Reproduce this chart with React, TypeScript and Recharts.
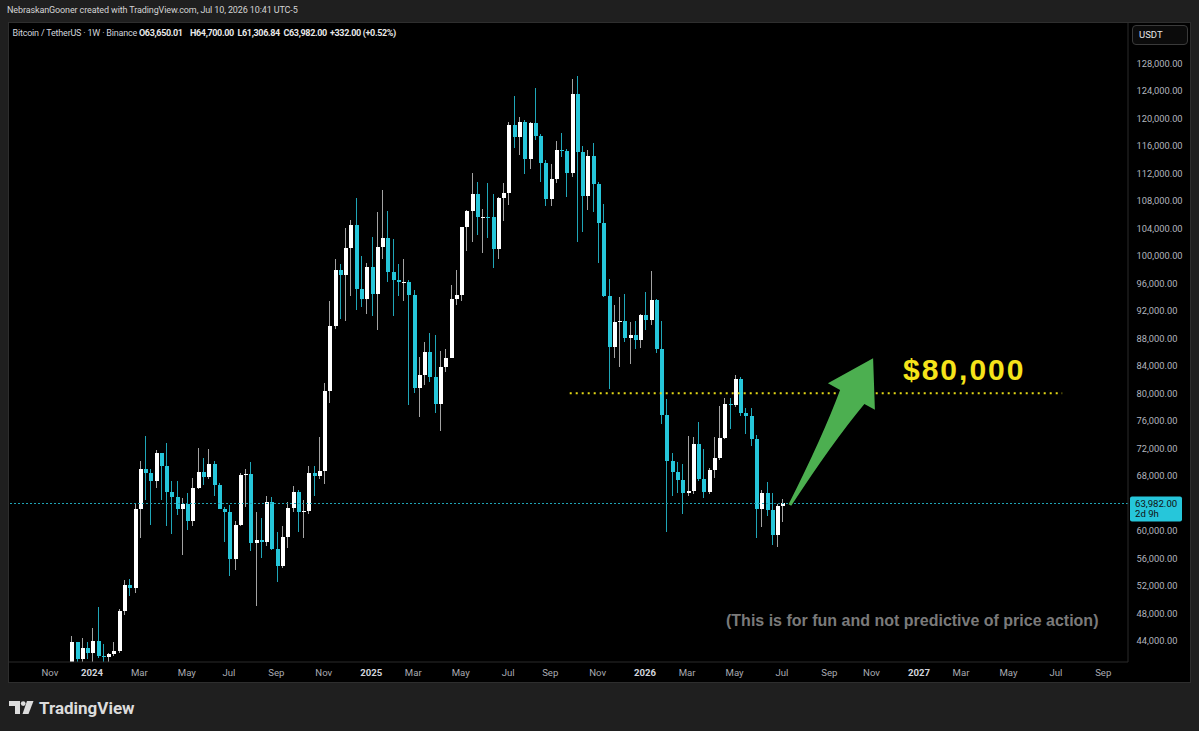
import React from 'react';
import { ComposedChart, Bar, XAxis, YAxis, ReferenceLine } from 'recharts';

// weekly candles, week index counted from Mon 1 Jan 2024 (first visible bar = 4 Dec 2023)
const firstWeek = -4;

const opens = [
  39970, 43780, 41360, 42990, 42280, 43930, 41730, 41580, 42030, 42580, 48300, 52140,
  51730, 63110, 68960, 68390, 67210, 71280, 69360, 65660, 64940, 63120, 63900, 61480,
  66270, 68520, 67760, 69650, 66670, 63200, 62680, 55860, 60800, 68160, 68250, 58160,
  58710, 58430, 64220, 57300, 54870, 59130, 63340, 65610, 62800, 62850, 68360, 67960,
  68760, 80370, 89850, 97900, 97190, 101110, 104460, 95190, 93720, 98360, 94510, 101330,
  102620, 97700, 96460, 96120, 96260, 94270, 80730, 82600, 86080, 82390, 78430, 83760,
  85170, 93750, 94280, 104120, 106450, 109000, 105600, 105700, 105600, 100960, 108380, 109200,
  119080, 117300, 119450, 114100, 119300, 117400, 113500, 108250, 111150, 115350, 115250, 112100,
  123500, 115100, 108650, 114500, 110500, 104700, 94200, 86800, 90300, 90450, 88000, 88550,
  87820, 91460, 90730, 93500, 86400, 76800, 70100, 68500, 67440, 65550, 65840, 72690,
  67580, 65700, 68900, 70650, 73560, 78500, 78300, 82150, 77200, 76760, 73410, 63220,
  65550, 63080, 59440, 63650,
];
const highs = [
  44700, 43800, 44400, 43800, 45880, 48970, 43580, 42200, 43880, 48590, 52820, 52990,
  64000, 70170, 73780, 68920, 71770, 71340, 72800, 67200, 67230, 64730, 65500, 67700,
  71980, 70600, 71950, 70200, 66960, 63400, 63800, 61400, 68370, 68950, 70080, 62750,
  61800, 65000, 64980, 59800, 60670, 64130, 66500, 66000, 64480, 69400, 69500, 73620,
  81500, 93480, 99590, 98870, 104090, 105250, 108350, 99960, 98980, 102720, 106420, 109590,
  106460, 102500, 98830, 99480, 96500, 95000, 85310, 87450, 88770, 88500, 86100, 86430,
  95760, 97900, 104150, 106650, 111980, 110720, 106800, 110530, 108950, 108530, 110530, 119500,
  123220, 120250, 119800, 119400, 124470, 117650, 113880, 113380, 116660, 117900, 115500, 125710,
  126200, 115970, 115340, 116400, 110800, 107500, 96600, 92900, 94000, 94500, 90300, 90450,
  91600, 94670, 97720, 93700, 90450, 79230, 71370, 70060, 69770, 73850, 73700, 75890,
  71960, 69200, 73700, 78200, 79380, 79380, 82730, 82300, 77920, 77920, 74000, 65900,
  67150, 65550, 63950, 64700,
];
const lows = [
  39300, 40200, 40500, 41300, 40750, 41500, 40280, 38550, 41800, 42260, 47700, 50520,
  50900, 59000, 64530, 60780, 66300, 64490, 60660, 59600, 62350, 56550, 60190, 60750,
  66080, 66600, 67600, 65080, 63380, 58400, 53490, 54260, 60630, 63460, 57120, 49000,
  56080, 57800, 57200, 52550, 54560, 57490, 62700, 59830, 58900, 62450, 65070, 67480,
  66800, 78580, 89380, 90790, 90500, 94150, 92180, 92500, 91530, 91200, 89260, 99500,
  96150, 91230, 94090, 93390, 78260, 80000, 76600, 81200, 81640, 77150, 74510, 83100,
  85140, 92800, 93380, 100720, 102000, 103070, 100370, 102660, 98200, 99600, 105100, 107450,
  115700, 114700, 111920, 112650, 116800, 110680, 107270, 107270, 110600, 114400, 108620, 111400,
  102000, 103530, 106600, 106300, 98900, 94000, 80600, 85200, 83800, 87400, 84300, 86400,
  86660, 89280, 90000, 85930, 75600, 59800, 65100, 65550, 62500, 65100, 65300, 67300,
  64820, 65400, 67730, 70300, 73400, 74870, 78000, 76760, 74140, 72400, 59000, 60600,
  62200, 57980, 57690, 61306.84,
];
const closes = [
  43780, 41360, 42990, 42280, 43930, 41730, 41580, 42030, 42580, 48300, 52140, 51730,
  63110, 68960, 68390, 67210, 71280, 69360, 65660, 64940, 63120, 63900, 61480, 66270,
  68520, 67760, 69650, 66670, 63200, 62680, 55860, 60800, 68160, 68250, 58160, 58710,
  58430, 64220, 57300, 54870, 59130, 63340, 65610, 62800, 62850, 68360, 67960, 68760,
  80370, 89850, 97900, 97190, 101110, 104460, 95190, 93720, 98360, 94510, 101330, 102620,
  97700, 96460, 96120, 96260, 94270, 80730, 82600, 86080, 82390, 78430, 83760, 85170,
  93750, 94280, 104120, 106450, 109000, 105600, 105700, 105600, 100960, 108380, 109200, 119080,
  117300, 119450, 114100, 119300, 117400, 113500, 108250, 111150, 115350, 115250, 112100, 123500,
  115100, 108650, 114500, 110500, 104700, 94200, 86800, 90300, 90450, 88000, 88550, 87820,
  91460, 90730, 93500, 86400, 76800, 70100, 68500, 67440, 65550, 65840, 72690, 67580,
  65700, 68900, 70650, 73560, 78500, 78300, 82150, 77200, 76760, 73410, 63220, 65550,
  63080, 59440, 63650, 63982,
];

const timeTicks = [-8, 0, 9, 18, 26, 35, 44, 53, 61, 70, 79, 87, 96, 105, 113, 122, 131, 140, 148, 157, 165, 174, 183, 192];
const timeLabels = ['Nov', '2024', 'Mar', 'May', 'Jul', 'Sep', 'Nov', '2025', 'Mar', 'May', 'Jul', 'Sep', 'Nov', '2026', 'Mar', 'May', 'Jul', 'Sep', 'Nov', '2027', 'Mar', 'May', 'Jul', 'Sep'];
// 64,000 sits under the last-price tag
const priceTicks = [44000, 48000, 52000, 56000, 60000, 68000, 72000, 76000, 80000, 84000, 88000, 92000, 96000, 100000, 104000, 108000, 112000, 116000, 120000, 124000, 128000];

const legendItems = ['O63,650.01', 'H64,700.00', 'L61,306.84', 'C63,982.00', '+332.00 (+0.52%)'];
const legendLeft = [139, 190, 237.5, 283.5, 330];

const lastPrice = 63982;
const targetPrice = 80000;
const targetFrom = 90.7;
const targetTo = 184.2;
const arrowFrom = { x: 132.5, y: 63750 };
const arrowTo = { x: 148.3, y: 85100 };

const UP = '#ffffff';
const DOWN = '#26c6da';
const UP_WICK = '#a3a3a3';
const DOWN_WICK = '#1fa6b8';
const UI_FONT = 'Roboto, "Liberation Sans", sans-serif';

const candles = opens.map((o, i) => ({
  w: firstWeek + i,
  open: o,
  high: highs[i],
  low: lows[i],
  close: closes[i],
}));

const Candle = (props: any) => {
  const { x, y, width, height, payload } = props;
  if (!payload || height == null) return null;
  const { open, close, high, low } = payload;
  const top = Math.min(y, y + height);
  const span = Math.abs(height);
  const toY = (v: number) => top + ((high - v) / (high - low)) * span;
  const up = close >= open;
  const cx = Math.round(x + width / 2);
  const bTop = toY(Math.max(open, close));
  const bBot = toY(Math.min(open, close));
  return (
    <g shapeRendering="crispEdges">
      <rect x={cx} y={top} width={1} height={span} fill={up ? UP_WICK : DOWN_WICK} />
      <rect x={cx - 1.5} y={bTop} width={4} height={Math.max(1, bBot - bTop)} fill={up ? UP : DOWN} />
    </g>
  );
};

const TimeTick = (props: any) => {
  const { x, y, payload } = props;
  const label = timeLabels[timeTicks.indexOf(payload.value)];
  const isYear = /^\d{4}$/.test(label || '');
  return (
    <text x={x} y={y + 13.5} textAnchor="middle" fontFamily={UI_FONT} fontSize={9.6}
      fontWeight={isYear ? 700 : 400} fill={isYear ? '#d1d4dc' : '#a9abb2'}>
      {label}
    </text>
  );
};

const PriceTick = (props: any) => {
  const { x, y, payload } = props;
  return (
    <text x={x + 8.5} y={y + 3.3} textAnchor="start" fontFamily={UI_FONT} fontSize={9.3} fill="#b2b5be">
      {payload.value.toLocaleString('en-US', { minimumFractionDigits: 2 })}
    </text>
  );
};

const PriceTag = (props: any) => {
  const vb = props.viewBox;
  if (!vb) return null;
  const x = vb.x + vb.width + 2;
  const y = vb.y;
  return (
    <g>
      <rect x={x} y={y - 7} width={52} height={25} rx={2} fill={DOWN} />
      <text x={x + 5} y={y + 3.3} fontFamily={UI_FONT} fontSize={9.6} fill="#111">
        {lastPrice.toLocaleString('en-US', { minimumFractionDigits: 2 })}
      </text>
      <text x={x + 5} y={y + 14} fontFamily={UI_FONT} fontSize={9.6} fill="#111">2d 9h</text>
    </g>
  );
};

const Arrow = (props: any) => {
  const { x1, y1, x2, y2 } = props;
  if ([x1, y1, x2, y2].some((v) => v == null || isNaN(v))) return null;
  const dx = x2 - x1;
  const dy = y2 - y1;
  const len = Math.hypot(dx, dy);
  const ux = dx / len;
  const uy = dy / len;
  const nx = -uy;
  const ny = ux;
  const p = (a: number, b: number) => `${(x1 + ux * a + nx * b).toFixed(1)},${(y1 + uy * a + ny * b).toFixed(1)}`;
  const base = len - 44;
  const d = `M${p(0, -1.5)} Q${p(base * 0.6, -5)} ${p(base, -13)} L${p(base, -27)} L${p(len, 0)} L${p(base, 27)} L${p(base, 15)} Q${p(base * 0.6, 6)} ${p(0, 1.5)} Z`;
  return <path d={d} fill="#4caf50" />;
};

const App: React.FC = () => {
  return (
    <div style={{ position: 'absolute', left: 0, top: 0, width: 1199, height: 731, background: '#1f1f1f', overflow: 'hidden', fontFamily: UI_FONT }}>
      <div style={{ position: 'absolute', left: 7, top: 5, fontSize: 9, letterSpacing: -0.12, color: '#d4d4d4', whiteSpace: 'nowrap' }}>
        NebraskanGooner created with TradingView.com, Jul 10, 2026 10:41 UTC-5
      </div>
      <div style={{ position: 'absolute', left: 8, top: 22, width: 1181, height: 659, background: '#000', border: '1px solid #2e2e2e' }} />
      <ComposedChart
        width={1181}
        height={660}
        data={candles}
        margin={{ top: 0, right: 0, bottom: 0, left: 0 }}
        style={{ position: 'absolute', left: 9, top: 23 }}
      >
        <XAxis
          dataKey="w"
          type="number"
          domain={[-15.76, 196.7]}
          allowDataOverflow
          ticks={timeTicks}
          interval={0}
          height={21}
          tickSize={0}
          tickMargin={0}
          tickLine={false}
          axisLine={{ stroke: '#2b2b2b' }}
          tick={<TimeTick />}
        />
        <YAxis
          orientation="right"
          type="number"
          domain={[40920, 133860]}
          allowDataOverflow
          ticks={priceTicks}
          interval={0}
          width={62}
          tickSize={0}
          tickMargin={0}
          tickLine={false}
          axisLine={{ stroke: '#2b2b2b' }}
          tick={<PriceTick />}
        />
        <ReferenceLine y={lastPrice} stroke="#1fa3b5" strokeDasharray="2 2" shapeRendering="crispEdges" label={<PriceTag />} />
        <Bar
          dataKey={(d: any) => [d.low, d.high]}
          barSize={4}
          shape={<Candle />}
          isAnimationActive={false}
        />
        <ReferenceLine
          segment={[{ x: targetFrom, y: targetPrice }, { x: targetTo, y: targetPrice }]}
          stroke="#e3d816"
          strokeWidth={2}
          strokeDasharray="2 4"
        />
        <ReferenceLine segment={[arrowFrom, arrowTo]} shape={(p: any) => <Arrow {...p} />} />
      </ComposedChart>

      <div style={{ position: 'absolute', left: 12.5, top: 28, fontSize: 9, letterSpacing: -0.2, color: '#d1d4dc', whiteSpace: 'nowrap' }}>
        Bitcoin / TetherUS · 1W · Binance
      </div>
      {legendItems.map((t, i) => (
        <div key={t} style={{ position: 'absolute', left: legendLeft[i], top: 28, fontSize: 9, fontWeight: 700, letterSpacing: -0.35, color: '#e8e8e8', whiteSpace: 'nowrap' }}>
          {t}
        </div>
      ))}
      <div style={{ position: 'absolute', left: 1132, top: 25, width: 48, height: 18, border: '1px solid #3a3a3a', borderRadius: 4, background: '#0b0b0b', color: '#e6e6e6', fontSize: 9.5, lineHeight: '18px', paddingLeft: 6 }}>
        USDT
      </div>

      <div style={{ position: 'absolute', left: 903, top: 352, fontFamily: '"Liberation Sans", Arial, sans-serif', fontWeight: 700, fontSize: 30, letterSpacing: 2, color: '#f5e41a', whiteSpace: 'nowrap', lineHeight: '36px' }}>
        $80,000
      </div>
      <div style={{ position: 'absolute', left: 726, top: 611, fontFamily: '"Liberation Sans", Arial, sans-serif', fontWeight: 700, fontSize: 16, color: '#7a7a7a', whiteSpace: 'nowrap', lineHeight: '20px' }}>
        (This is for fun and not predictive of price action)
      </div>

      <svg width={140} height={24} style={{ position: 'absolute', left: 9, top: 697 }}>
        <g fill="#dcdcdc">
          <path d="M0,4 H11 V17 H6 V9 H0 Z" />
          <circle cx={14.2} cy={6.6} r={2.4} />
          <path d="M18,4 H24.5 L19.5,17 H13.5 Z" />
        </g>
        <text x={30} y={17} fontFamily={UI_FONT} fontWeight={700} fontSize={17} fill="#dcdcdc">TradingView</text>
      </svg>
    </div>
  );
};

export default App;
